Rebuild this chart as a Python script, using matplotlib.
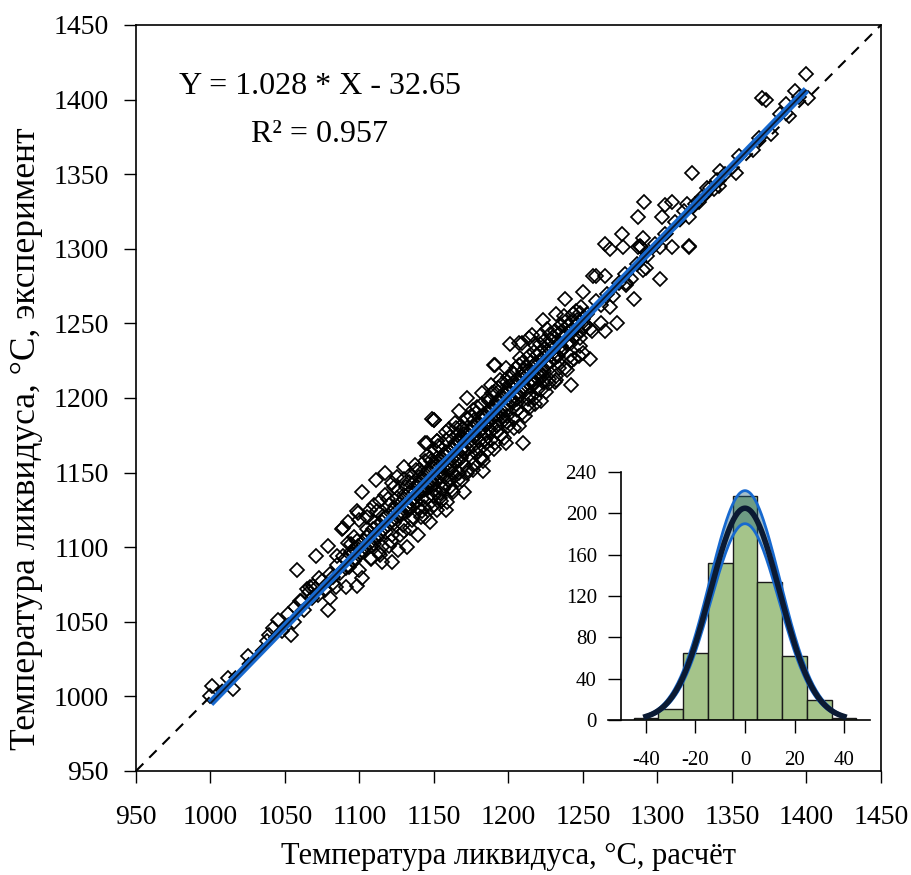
import matplotlib
matplotlib.use('Agg')
import matplotlib.pyplot as plt
import numpy as np

plt.rcParams['font.family'] = ['Liberation Serif', 'DejaVu Serif']
plt.rcParams['axes.unicode_minus'] = False

pts_low = [
    (1000, 1000), (1001, 1007), (1012, 1012), (1015, 1005), (1025, 1027),
    (1038, 1037), (1039, 1041), (1042, 1046), (1045, 1051), (1048, 1044),
    (1052, 1055), (1054, 1041), (1056, 1050), (1057, 1060), (1058, 1085),
    (1060, 1064), (1061, 1064), (1063, 1058), (1065, 1072), (1066, 1070),
    (1067, 1073), (1068, 1066), (1069, 1074), (1070, 1072), (1071, 1094),
    (1072, 1068), (1073, 1079), (1075, 1077), (1077, 1071), (1079, 1101),
    (1079, 1058), (1080, 1066), (1080, 1082), (1082, 1080), (1082, 1076),
    (1084, 1073), (1085, 1094), (1085, 1088), (1087, 1083), (1088, 1112),
    (1089, 1113), (1089, 1094), (1091, 1073), (1091, 1086), (1092, 1103),
    (1092, 1117), (1093, 1087), (1094, 1102), (1094, 1097), (1096, 1107),
    (1096, 1091), (1098, 1124), (1098, 1074), (1098, 1104), (1099, 1123),
    (1100, 1118), (1100, 1085), (1100, 1095),
]

pts_mid = [
    (1102, 1137), (1102, 1079), (1102, 1098), (1105, 1107), (1105, 1112),
    (1107, 1125), (1108, 1092), (1108, 1101), (1110, 1102), (1110, 1117),
    (1111, 1145), (1112, 1106), (1114, 1131), (1114, 1095), (1115, 1090),
    (1116, 1121), (1117, 1150), (1118, 1110), (1120, 1128), (1121, 1104),
    (1122, 1143), (1122, 1090), (1123, 1116), (1125, 1147), (1125, 1133),
    (1126, 1098), (1127, 1121), (1128, 1122), (1130, 1111), (1130, 1135),
    (1130, 1154), (1131, 1140), (1132, 1100), (1133, 1127), (1133, 1125),
    (1134, 1127), (1135, 1118), (1136, 1143), (1136, 1128), (1138, 1152),
    (1138, 1130), (1139, 1108), (1139, 1142), (1140, 1147), (1141, 1137),
    (1142, 1124), (1142, 1132), (1143, 1138), (1144, 1170), (1144, 1149),
    (1144, 1120), (1145, 1161), (1145, 1133), (1145, 1170), (1145, 1140),
    (1146, 1152), (1147, 1117), (1148, 1141), (1148, 1158), (1149, 1186),
    (1149, 1144), (1150, 1185), (1150, 1128), (1150, 1185), (1151, 1156),
    (1151, 1138), (1152, 1171), (1152, 1125), (1152, 1171), (1152, 1145),
    (1152, 1160), (1154, 1133), (1154, 1136), (1154, 1147), (1155, 1160),
    (1155, 1150), (1157, 1148), (1157, 1162), (1158, 1177), (1158, 1125),
    (1158, 1164), (1159, 1130), (1160, 1179), (1160, 1152), (1160, 1145),
    (1161, 1152), (1161, 1140), (1161, 1155), (1163, 1166), (1163, 1137),
    (1163, 1150), (1164, 1183), (1164, 1157), (1164, 1170), (1166, 1145),
    (1166, 1175), (1167, 1191), (1167, 1171), (1167, 1150), (1168, 1160),
    (1169, 1165), (1170, 1137), (1170, 1176), (1171, 1164), (1172, 1200),
    (1172, 1150), (1172, 1180), (1173, 1152), (1173, 1166), (1174, 1178),
    (1175, 1160), (1176, 1192), (1176, 1168), (1176, 1181), (1177, 1156),
    (1178, 1190), (1179, 1183), (1179, 1173), (1180, 1171), (1181, 1160),
    (1181, 1178), (1182, 1203), (1182, 1160), (1182, 1186), (1183, 1151),
    (1183, 1188), (1184, 1172), (1185, 1176), (1185, 1182), (1186, 1165),
    (1187, 1198), (1188, 1209), (1188, 1172), (1188, 1193), (1188, 1178),
    (1189, 1181), (1190, 1222), (1190, 1188), (1191, 1170), (1191, 1222),
    (1191, 1195), (1192, 1198), (1192, 1181), (1194, 1212), (1194, 1186),
    (1194, 1190), (1195, 1175), (1197, 1203), (1197, 1185), (1198, 1220),
    (1198, 1170), (1198, 1192), (1199, 1188), (1200, 1181), (1200, 1205),
    (1201, 1236), (1201, 1208), (1203, 1197), (1203, 1210), (1204, 1186),
    (1205, 1220), (1206, 1213), (1206, 1199), (1207, 1237), (1207, 1181),
    (1207, 1201), (1209, 1190), (1209, 1237), (1209, 1215), (1210, 1170),
    (1210, 1218), (1212, 1206), (1212, 1221), (1213, 1195), (1214, 1240),
    (1214, 1193), (1215, 1224), (1215, 1208), (1216, 1242), (1216, 1211),
    (1218, 1210), (1218, 1200), (1218, 1223), (1219, 1229), (1221, 1215),
    (1221, 1217), (1221, 1230), (1222, 1242), (1222, 1198), (1222, 1205),
    (1223, 1252), (1223, 1215), (1224, 1233), (1224, 1218), (1226, 1222),
    (1227, 1210), (1227, 1236), (1229, 1238), (1230, 1241), (1231, 1227),
    (1231, 1211), (1232, 1256), (1232, 1215), (1233, 1228), (1234, 1243),
    (1235, 1235), (1236, 1232), (1236, 1245), (1238, 1266), (1238, 1220),
    (1239, 1236), (1240, 1248), (1242, 1237), (1242, 1225), (1242, 1209),
    (1242, 1251), (1244, 1226), (1245, 1242), (1246, 1252), (1248, 1240),
    (1248, 1257), (1249, 1261), (1250, 1271), (1250, 1230), (1251, 1248),
    (1253, 1256), (1255, 1246), (1255, 1226), (1256, 1245), (1257, 1282),
    (1259, 1265), (1259, 1282),
]

# плотное ядро вдоль линии
pts_core = [
    (1090, 1092), (1092, 1088), (1094, 1095), (1096, 1099), (1097, 1093),
    (1099, 1101), (1101, 1096), (1103, 1104), (1104, 1100), (1106, 1108),
    (1107, 1103), (1109, 1112), (1110, 1106), (1112, 1114), (1113, 1109),
    (1115, 1117), (1116, 1112), (1118, 1120), (1119, 1115), (1121, 1123),
    (1122, 1118), (1124, 1126), (1125, 1121), (1127, 1129), (1128, 1124),
    (1130, 1132), (1131, 1127), (1133, 1136), (1134, 1130), (1136, 1139),
    (1137, 1133), (1139, 1136), (1140, 1142), (1141, 1139), (1143, 1146),
    (1144, 1141), (1146, 1149), (1147, 1144), (1149, 1152), (1150, 1147),
    (1152, 1155), (1153, 1150), (1155, 1158), (1156, 1153), (1158, 1161),
    (1159, 1156), (1161, 1164), (1162, 1159), (1164, 1167), (1165, 1162),
    (1167, 1170), (1168, 1165), (1170, 1173), (1171, 1168), (1173, 1176),
    (1174, 1171), (1176, 1179), (1177, 1174), (1179, 1182), (1180, 1177),
    (1182, 1185), (1183, 1180), (1185, 1188), (1186, 1183), (1188, 1191),
    (1189, 1186), (1191, 1194), (1192, 1189), (1194, 1197), (1195, 1192),
    (1197, 1200), (1198, 1195), (1200, 1203), (1201, 1198), (1203, 1206),
    (1204, 1201), (1206, 1209), (1207, 1204), (1209, 1212), (1210, 1207),
    (1212, 1215), (1213, 1210), (1215, 1218), (1216, 1213), (1218, 1221),
    (1219, 1216), (1221, 1224), (1222, 1219), (1224, 1227), (1225, 1222),
    (1227, 1230), (1228, 1225), (1230, 1233), (1232, 1229), (1234, 1237),
    (1236, 1233), (1238, 1241), (1240, 1237), (1242, 1245), (1244, 1241),
    (1246, 1249), (1248, 1244), (1250, 1253), (1252, 1249),
    (1105, 1120), (1108, 1093), (1112, 1124), (1115, 1100), (1119, 1132),
    (1122, 1108), (1126, 1138), (1129, 1115), (1133, 1144), (1136, 1120),
    (1140, 1152), (1143, 1127), (1147, 1160), (1150, 1134), (1154, 1167),
    (1157, 1141), (1161, 1174), (1164, 1148), (1168, 1181), (1171, 1155),
    (1175, 1188), (1178, 1163), (1182, 1196), (1185, 1170), (1189, 1203),
    (1192, 1177), (1196, 1210), (1199, 1184), (1203, 1217), (1206, 1192),
    (1210, 1224), (1213, 1199), (1217, 1231), (1220, 1206), (1224, 1238),
    (1227, 1213), (1231, 1245), (1234, 1220), (1238, 1251), (1241, 1228),
    (1245, 1258), (1248, 1235),
]

# более широкий разброс в центре облака
pts_spread = [
    (1110, 1128), (1113, 1096), (1117, 1135), (1120, 1101), (1123, 1140),
    (1127, 1108), (1130, 1146), (1134, 1113), (1137, 1155), (1141, 1120),
    (1144, 1158), (1148, 1126), (1151, 1165), (1155, 1131), (1158, 1172),
    (1162, 1138), (1165, 1180), (1169, 1145), (1172, 1186), (1176, 1152),
    (1179, 1194), (1183, 1158), (1186, 1200), (1190, 1166), (1193, 1207),
    (1197, 1173), (1200, 1214), (1204, 1180), (1207, 1222), (1211, 1188),
    (1214, 1228), (1218, 1196), (1221, 1236), (1225, 1204), (1228, 1243),
    (1232, 1212), (1235, 1249), (1239, 1219), (1243, 1256), (1247, 1228),
    (1135, 1148), (1139, 1126), (1153, 1168), (1156, 1139), (1166, 1158),
    (1169, 1179), (1177, 1185), (1181, 1166), (1187, 1179), (1190, 1204),
    (1196, 1188), (1199, 1211), (1205, 1196), (1208, 1227), (1214, 1202),
    (1217, 1236), (1223, 1211), (1226, 1246), (1233, 1224), (1237, 1255),
]

pts_high = [
    (1262, 1250), (1262, 1262), (1265, 1303), (1265, 1282), (1265, 1245),
    (1266, 1270), (1268, 1300), (1268, 1261), (1270, 1268), (1273, 1250),
    (1274, 1277), (1276, 1310), (1277, 1301), (1278, 1283), (1279, 1277),
    (1279, 1276), (1282, 1280), (1284, 1266), (1286, 1290), (1287, 1301),
    (1287, 1321), (1288, 1302), (1289, 1301), (1290, 1307), (1290, 1286),
    (1291, 1331), (1292, 1287), (1293, 1295), (1298, 1303), (1302, 1280),
    (1302, 1301), (1303, 1321), (1305, 1329), (1305, 1310), (1310, 1331),
    (1310, 1301), (1312, 1318), (1318, 1325), (1320, 1330), (1321, 1302),
    (1321, 1301), (1321, 1321), (1323, 1351), (1325, 1330), (1328, 1331),
    (1330, 1335), (1333, 1341), (1335, 1341), (1338, 1340), (1340, 1346),
    (1341, 1342), (1342, 1352), (1345, 1350), (1353, 1351), (1355, 1362),
    (1364, 1366), (1368, 1374), (1370, 1401), (1373, 1400), (1376, 1377),
    (1382, 1390), (1386, 1397), (1388, 1389), (1392, 1406), (1395, 1402),
    (1400, 1417), (1401, 1401),
]

# линейная регрессия
slope, intercept = 1.028, -32.65
fit_x = [1000, 1400]

# гистограмма отклонений (вставка)
bin_centers = [-40, -30, -20, -10, 0, 10, 20, 30, 40]
bin_counts = [2, 11, 65, 152, 217, 134, 62, 19, 2]
# нормальное распределение: (высота пика, сигма)
gauss_mid = (205, 14.0)
gauss_hi = (222, 14.2)
gauss_lo = (190, 13.8)

blue = '#1769cf'

fig = plt.figure(figsize=(9.12, 8.75), dpi=100)
ax = fig.add_axes([0.1491, 0.1189, 0.8169, 0.8526])

pts = np.array(pts_low + pts_mid + pts_core + pts_spread + pts_high)
ax.plot(pts[:, 0], pts[:, 1], 'D', ms=7, mfc='none', mec='black', mew=1.25, ls='none', zorder=2)

ax.plot([950, 1450], [950, 1450], color='black', lw=1.5, dashes=(5, 4), zorder=1)

fx = np.array(fit_x, dtype=float)
ax.plot(fx, slope * fx + intercept, color=blue, lw=5.5, solid_capstyle='butt', zorder=3)
ax.plot(fx, slope * fx + intercept, color='#0b1a33', lw=1.3, solid_capstyle='butt', zorder=4)

ax.set_xlim(950, 1450)
ax.set_ylim(950, 1450)
ax.set_xticks(np.arange(950, 1451, 50))
ax.set_yticks(np.arange(950, 1451, 50))
ax.tick_params(direction='out', length=8.5, width=1, labelsize=20)
ax.tick_params(axis='x', pad=16)
ax.tick_params(axis='y', pad=11)
for s in ax.spines.values():
    s.set_linewidth(1.2)

ax.set_xlabel('Температура ликвидуса, °C, расчёт', fontsize=22)
ax.set_ylabel('Температура ликвидуса, °C, эксперимент', fontsize=25.5)
ax.xaxis.set_label_coords(0.5, -0.095)
ax.yaxis.set_label_coords(-0.125, 0.446)

ax.text(0.247, 0.917, 'Y = 1.028 * X - 32.65', transform=ax.transAxes,
        ha='center', va='center', fontsize=23)
ax.text(0.247, 0.853, 'R² = 0.957', transform=ax.transAxes,
        ha='center', va='center', fontsize=23)

# вставка с гистограммой
ins = fig.add_axes([0.6667, 0.1771, 0.2873, 0.2834])
ins.patch.set_alpha(0)
ins.bar(bin_centers, bin_counts, width=10, color='#a5c48a', edgecolor='#1a1a1a', lw=1, zorder=1)

gx = np.linspace(-40, 40, 200)
def gauss(p):
    return p[0] * np.exp(-gx ** 2 / (2 * p[1] ** 2))
ins.fill_between(gx, gauss(gauss_lo), gauss(gauss_hi), color='#1c5f7c', alpha=0.4, lw=0, zorder=2)
ins.plot(gx, gauss(gauss_hi), color=blue, lw=2, zorder=3)
ins.plot(gx, gauss(gauss_lo), color=blue, lw=2, zorder=3)
ins.plot(gx, gauss(gauss_mid), color='#0b1a33', lw=4, zorder=4)

ins.set_xlim(-55.3, 50.5)
ins.set_ylim(0, 240)
ins.set_xticks([-40, -20, 0, 20, 40])
ins.set_yticks(np.arange(0, 241, 40))
ins.spines['top'].set_visible(False)
ins.spines['right'].set_visible(False)
ins.spines['left'].set_position(('data', -50))
ins.spines['left'].set_bounds(0, 240)
for s in ins.spines.values():
    s.set_linewidth(1.2)
ins.tick_params(axis='x', direction='out', length=9.5, width=1, labelsize=15, pad=13)
ins.tick_params(axis='y', direction='out', length=9.5, width=1, labelsize=15, pad=8)

fig.savefig('out.png', dpi=100)
